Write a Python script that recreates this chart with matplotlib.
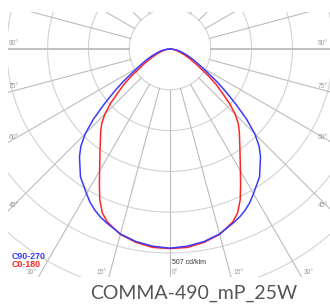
import numpy as np
import matplotlib
matplotlib.use("Agg")
import matplotlib.pyplot as plt

# gamma angles (deg from downward vertical)
gamma = [0, 5, 10, 15, 20, 22.5, 25, 27.5, 30, 35, 40, 42.5, 45, 47.5, 50,
         52.5, 55, 60, 65, 70, 75, 80, 85, 90]

# intensities in cd/klm
c90_270 = [495, 492, 486, 476, 460, 452, 442, 430, 415, 388, 350, 328, 298,
           258, 214, 176, 144, 94, 65, 45, 30, 19, 9, 0]
c0_180 = [496, 495, 488, 477, 457, 440, 413, 380, 350, 303, 268, 251, 229,
          201, 169, 144, 117, 75, 50, 32, 20, 11, 5, 0]

scale_max = 507
grid_labels = ['0°', '15°', '30°', '45°', '60°', '75°', '90°']

ring = scale_max / 5.0
px = scale_max / 204.0  # data units per pixel

fig = plt.figure(figsize=(3.3, 3.07), dpi=100)
ax = fig.add_axes([8 / 330, 30 / 307, 322 / 330, 265 / 307])
ax.set_xlim(-162 * px, 160 * px)
ax.set_ylim(-228 * px, 37 * px)
ax.axis('off')

# circles
t = np.linspace(0, 2 * np.pi, 400)
for k in range(1, 8):
    ax.plot(k * ring * np.cos(t), k * ring * np.sin(t), color='#d2d2d2', lw=0.8, zorder=1)

# radial lines every 15 deg
for a in range(0, 360, 15):
    th = np.radians(a)
    x0, y0 = ring * np.sin(th), -ring * np.cos(th)
    x1, y1 = 1500 * np.sin(th), -1500 * np.cos(th)
    if a in (90, 270):
        ax.plot([x0, x1], [y0, y1], color='#c0c0c0', lw=1.4, zorder=1)
    else:
        ax.plot([x0, x1], [y0, y1], color='#bcbcbc', lw=0.8, zorder=1)


def curve(vals):
    g = np.radians(gamma)
    r = np.array(vals, dtype=float)
    xr, yr = r * np.sin(g), -r * np.cos(g)
    x = np.concatenate([-xr[::-1], xr[1:]])
    y = np.concatenate([yr[::-1], yr[1:]])
    return x, y


xb, yb = curve(c90_270)
xr, yr = curve(c0_180)
ax.plot(xr, yr, color='#ff2626', lw=1.1, zorder=3)
ax.plot(xb, yb, color='#3a3aff', lw=1.1, zorder=4)

# angle labels
lab = dict(fontsize=4.8, color='#999999', family='Liberation Sans')
xl, xrgt = -161 * px, 158 * px
ybot = -227 * px
for i, a in enumerate([90, 75, 60, 45]):
    y_edge = -162 * px / np.tan(np.radians(a)) if a != 90 else 0
    txt = grid_labels[[6, 5, 4, 3][i]]
    ax.text(xl, y_edge + 2 * px, txt, ha='left', va='bottom', **lab)
    ax.text(xrgt, y_edge + 2 * px, txt, ha='right', va='bottom', **lab)
for a, txt in [(30, '30°'), (15, '15°')]:
    xe = 228 * px * np.tan(np.radians(a))
    ax.text(-xe - 2 * px, ybot, txt, ha='right', va='bottom', **lab)
    ax.text(xe + 2 * px, ybot, txt, ha='left', va='bottom', **lab)
ax.text(2 * px, ybot, '0°', ha='left', va='bottom', **lab)

ax.text(2 * px, -scale_max - 6 * px, '%d cd/klm' % scale_max, ha='left', va='top',
        fontsize=5, color='#333333', family='Liberation Sans')

# legend
ax.text(xl + 3 * px, -207 * px, 'C90-270', color='#3a3aff', fontsize=6.4,
        fontweight='bold', family='Liberation Sans', ha='left', va='center')
ax.text(xl + 3 * px, -215 * px, 'C0-180', color='#ff2626', fontsize=6.4,
        fontweight='bold', family='Liberation Sans', ha='left', va='center')

fig.text(194 / 330, 1 - 293 / 307, 'COMMA-490_mP_25W', ha='center', va='center',
         fontsize=14, color='#555555', family='Lato', fontweight='normal')

fig.savefig('out.png', dpi=100)
